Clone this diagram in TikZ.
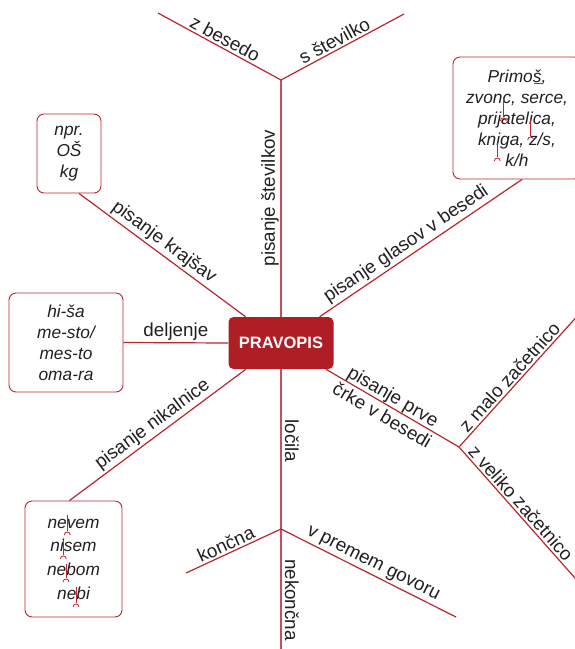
\documentclass[tikz,border=0pt]{standalone}
\usepackage{fontspec}
\setmainfont{Liberation Sans}
\usetikzlibrary{calc}
\definecolor{lred}{RGB}{188,36,46}
\definecolor{vred}{RGB}{200,78,88}
\definecolor{bred}{RGB}{174,30,36}
\definecolor{txt}{RGB}{35,31,32}
\newcommand\splitmk[3]{%
  \draw[mk] (#1,#2) -- (#1,#3);
  \draw[mk] ({#1-3},{#3+4}) .. controls ({#1-3},{#3}) and ({#1+3},{#3}) .. ({#1+3},{#3+4});}
\begin{document}
\begin{tikzpicture}[x=1pt,y=-1pt,
  branch/.style={draw=lred, line width=1.2pt},
  stem/.style={draw=vred, line width=1.8pt},
  lbl/.style={font=\fontsize{18.8}{22}\selectfont, text=txt, inner sep=2pt},
  ex/.style={draw=lred, line width=0.9pt, rounded corners=7pt,
    font=\fontsize{17.3}{21}\selectfont\itshape, text=txt, align=center, inner sep=0pt},
  mk/.style={draw=lred, line width=0.8pt},
]
\useasboundingbox (0,0) rectangle (574,649);

% central node
\node[fill=bred, rounded corners=5pt, minimum width=105pt, minimum height=52pt,
  text=white, font=\fontsize{16.5}{20}\selectfont\bfseries, inner sep=0pt] (P) at (281,343) {PRAVOPIS};

% coordinates
\coordinate (T) at (281,80);
\coordinate (TL) at (158,13);
\coordinate (TR) at (404,14);
\coordinate (J) at (459,447);
\coordinate (M) at (590,302);
\coordinate (V) at (590,595);
\coordinate (B) at (281,529);
\coordinate (BE) at (281,660);
\coordinate (K) at (186,573);
\coordinate (R) at (456,617);

% example boxes
\node[ex, minimum width=64pt, minimum height=79pt] (A) at (69,153.5) {npr.\\OŠ\\kg};
\node[ex, minimum width=114pt, minimum height=99pt] (D) at (66,342.5) {hi-ša\\me-sto/\\mes-to\\oma-ra};
\node[ex, minimum width=128pt, minimum height=122pt] (G) at (517,118) {Primoš,\\zvonc, serce,\\prijatelica,\\kniga, z/s,\\k/h};
\node[ex, minimum width=97pt, minimum height=116pt,
  font=\fontsize{17.3}{23.7}\selectfont\itshape] (N) at (73.5,559) {nevem\\nisem\\nebom\\nebi};

% top
\draw[stem] (P.north) -- (T);
\draw[branch] (T) -- node[lbl, sloped, above, pos=0.49] (l1) {z besedo} (TL);
\draw[branch] (T) -- node[lbl, sloped, above, pos=0.47] (l2) {s številko} (TR);
\node[lbl, rotate=90] (l3) at (270,198) {pisanje številkov};

% left / right upper
\draw[branch] ($(A.south)+(10,0)$) -- node[lbl, sloped, above, pos=0.47] (l4) {pisanje krajšav} (P);
\draw[branch] (P) -- node[lbl, sloped, above, pos=0.46] (l5) {pisanje glasov v besedi} ($(G.south)+(5,0)$);
\draw[branch] (D.east) -- node[lbl, above, pos=0.5] (l6) {deljenje} (P.west);
\draw[branch] (P) -- node[lbl, sloped, above, pos=0.49] (l7) {pisanje nikalnice} ($(N.north)+(-4,0)$);

% right lower
\draw[branch] (P) -- node[lbl, sloped, pos=0.466, align=center] (l8) {pisanje prve\\črke v besedi} (J);
\draw[branch] (J) -- node[lbl, sloped, above, pos=0.44] (l9) {z malo začetnico} (M);
\draw[branch] (J) -- node[lbl, sloped, above, pos=0.42] (l10) {z veliko začetnico} (V);

% bottom
\draw[stem] (P.south) -- (B) -- (BE);
\node[lbl, rotate=-90] (l11) at (292,441) {ločila};
\draw[branch] (B) -- node[lbl, sloped, above, pos=0.54] (l12) {končna} (K);
\draw[branch] (B) -- node[lbl, sloped, above, pos=0.5] (l13) {v premem govoru} (R);
\node[lbl, rotate=-90] (l14) at (292,600) {nekončna};

% marks in Primoš box
\draw[mk] (534.3,83.5) -- (541.7,83.5);
\splitmk{503.3}{96.7}{117}
\splitmk{530.7}{119}{136}
\splitmk{497.3}{143}{157}

% marks in nikalnice box
\splitmk{67.3}{514.7}{531}
\splitmk{63.3}{540.3}{555}
\splitmk{66}{564}{578}
\splitmk{76}{587}{603}
\end{tikzpicture}
\end{document}
